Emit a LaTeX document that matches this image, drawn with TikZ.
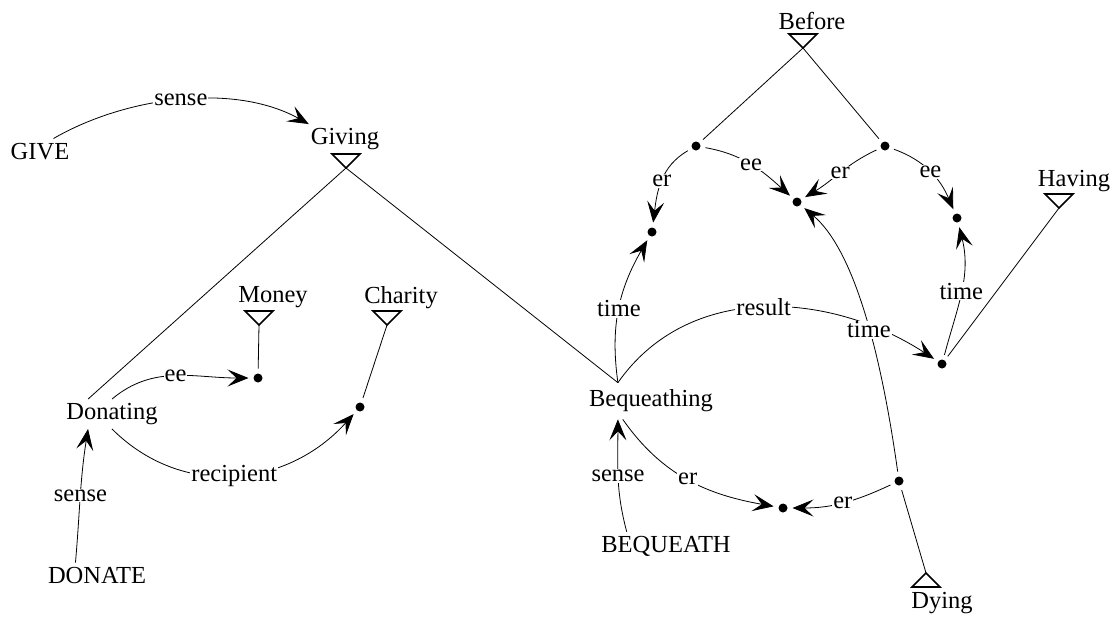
\documentclass[tikz,border=0pt]{standalone}
\usepackage{fontspec}
\setmainfont{Liberation Serif}
\usetikzlibrary{arrows.meta}
\begin{document}
\begin{tikzpicture}[x=1pt,y=1pt,
  font=\fontsize{24.5}{28}\selectfont,
  txt/.style={inner xsep=2pt, inner ysep=4pt},
  lbl/.style={fill=white, inner sep=1pt},
  dot/.style={circle, fill=black, minimum size=9pt, inner sep=0pt, outer sep=5pt},
  link/.style={line width=0.8pt},
  rel/.style={line width=0.8pt, -{Stealth[length=21pt,width=17pt,inset=9pt]}},
  tri/.style={line width=1.6pt, line join=miter},
]
\useasboundingbox (0,0) rectangle (1119,-619);

% concept labels
\node[txt, inner ysep=5pt] (give) at (40,-152) {GIVE};
\node[txt] (giving) at (345,-139) {Giving};
\node[txt] (money) at (273,-297) {Money};
\node[txt] (charity) at (401,-298) {Charity};
\node[txt] (donating) at (112,-414) {Donating};
\node[txt] (donate) at (97,-575) {DONATE};
\node[txt, inner ysep=7pt] (bequeathing) at (651,-401) {Bequeathing};
\node[txt] (bequeath) at (666,-546) {BEQUEATH};
\node[txt] (before) at (812,-21) {Before};
\node[txt] (having) at (1074,-181) {Having};
\node[txt] (dying) at (942,-603) {Dying};

% type triangles (apex points)
\coordinate (givingT) at (346,-168);
\coordinate (moneyT) at (259,-325);
\coordinate (charityT) at (387,-325);
\coordinate (beforeT) at (803,-48);
\coordinate (havingT) at (1059,-208);
\coordinate (dyingT) at (926,-573);
\draw[tri] (givingT) -- ++(-14,14) -- ++(28,0) -- cycle;
\draw[tri] (moneyT) -- ++(-14,14) -- ++(28,0) -- cycle;
\draw[tri] (charityT) -- ++(-14,14) -- ++(28,0) -- cycle;
\draw[tri] (beforeT) -- ++(-14,14) -- ++(28,0) -- cycle;
\draw[tri] (havingT) -- ++(-14,14) -- ++(28,0) -- cycle;
\draw[tri] (dyingT) -- ++(-14,-14) -- ++(28,0) -- cycle;

% role dots
\node[dot] (m) at (258,-378) {};
\node[dot] (c) at (360,-407) {};
\node[dot] (A) at (696,-146) {};
\node[dot] (B) at (885,-146) {};
\node[dot] (L) at (652,-232) {};
\node[dot] (M) at (797,-202) {};
\node[dot] (R) at (957,-218) {};
\node[dot] (h) at (942,-364) {};
\node[dot] (b) at (783,-508) {};
\node[dot] (dy) at (899,-481) {};

% left part
\draw[rel] (give.45) to[out=30,in=151,looseness=0.85] node[lbl]{sense} (giving.north west);
\draw[link] (givingT) -- (donating.148);
\draw[rel] (donate.150) to[out=85,in=-99] node[lbl]{sense} (donating.212);
\draw[rel] (donating.90) to[out=40,in=180] node[lbl]{ee} (m);
\draw[rel] (donating.270) to[out=-45,in=228,looseness=1.05] node[lbl]{recipient} (c);
\draw[link] (moneyT) -- (m);
\draw[link] (charityT) -- (c);

% right part
\draw[link] (givingT) -- (bequeathing.151);
\draw[rel] (bequeathing.151) to[out=98,in=240] node[lbl]{time} (L);
\draw[rel] (bequeathing.151) to[out=55,in=147] node[lbl]{result} (h);
\draw[rel] (bequeath.160) to[out=105,in=-90] node[lbl]{sense} (bequeathing.209);
\draw[rel] (bequeathing.213) to[out=-55,in=170] node[lbl]{er} (b);
\draw[rel] (dy) to[out=205,in=0] node[lbl]{er} (b);
\draw[link] (dyingT) -- (dy);
\draw[rel] (dy) to[out=98,in=-40,looseness=0.7] node[lbl]{time} (M);
\draw[link] (beforeT) -- (A);
\draw[link] (beforeT) -- (B);
\draw[rel] (A) to[out=210,in=83] node[lbl]{er} (L);
\draw[rel] (A) to[out=-10,in=138] node[lbl]{ee} (M);
\draw[rel] (B) to[out=205,in=31] node[lbl]{er} (M);
\draw[rel] (B) to[out=-20,in=113] node[lbl]{ee} (R);
\draw[rel] (h) to[out=75,in=-76] node[lbl]{time} (R);
\draw[link] (havingT) -- (h);
\end{tikzpicture}
\end{document}
